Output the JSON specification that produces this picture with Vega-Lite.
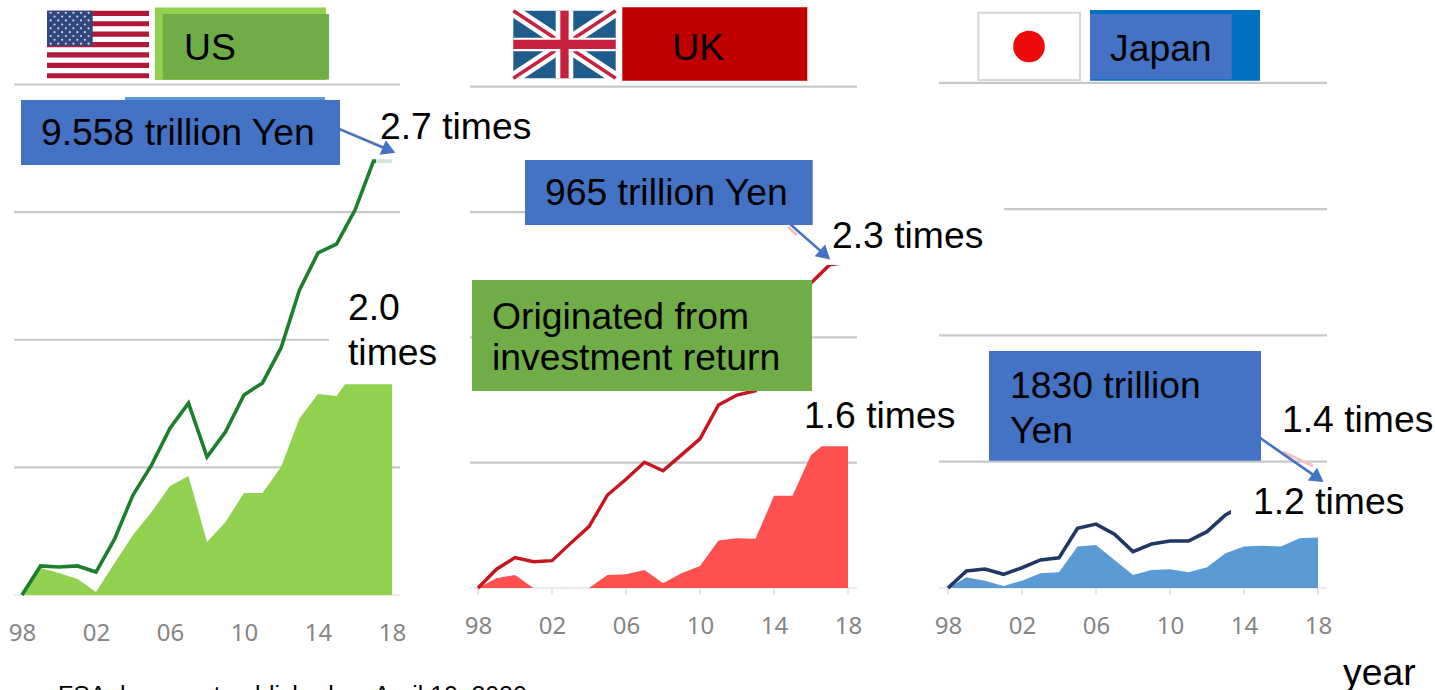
{
  "$schema": "https://vega.github.io/schema/vega-lite/v6.json",
  "padding": 0,
  "autosize": {"type": "pad"},
  "background": "white",
  "bounds": "flush",
  "spacing": 0,
  "config": {
    "view": {"stroke": null},
    "text": {"font": "Liberation Sans", "fontSize": 37.3, "align": "left", "baseline": "middle", "color": "#000000", "dy": 1.5},
    "axis": {"labelFont": "Noto Sans", "labelFontSize": 24, "labelColor": "#858585"}
  },
  "datasets": {
    "annotation": [{"kind": "annotation"}],
    "us": [
      {"year": 1998, "total": 1.0, "investment": 1.0},
      {"year": 1999, "total": 1.114, "investment": 1.106},
      {"year": 2000, "total": 1.11, "investment": 1.086},
      {"year": 2001, "total": 1.114, "investment": 1.063},
      {"year": 2002, "total": 1.09, "investment": 1.012},
      {"year": 2003, "total": 1.219, "investment": 1.125},
      {"year": 2004, "total": 1.392, "investment": 1.235},
      {"year": 2005, "total": 1.509, "investment": 1.325},
      {"year": 2006, "total": 1.654, "investment": 1.427},
      {"year": 2007, "total": 1.752, "investment": 1.466},
      {"year": 2008, "total": 1.541, "investment": 1.208},
      {"year": 2009, "total": 1.639, "investment": 1.286},
      {"year": 2010, "total": 1.784, "investment": 1.4},
      {"year": 2011, "total": 1.831, "investment": 1.4},
      {"year": 2012, "total": 1.968, "investment": 1.502},
      {"year": 2013, "total": 2.195, "investment": 1.693},
      {"year": 2014, "total": 2.34, "investment": 1.788},
      {"year": 2015, "total": 2.375, "investment": 1.78},
      {"year": 2016, "total": 2.508, "investment": 1.88},
      {"year": 2017, "total": 2.7, "investment": 1.96},
      {"year": 2018, "total": 2.7, "investment": 2.0}
    ],
    "uk": [
      {"year": 1998, "total": 1.0, "investment": 1.0},
      {"year": 1999, "total": 1.075, "investment": 1.039},
      {"year": 2000, "total": 1.121, "investment": 1.052},
      {"year": 2001, "total": 1.105, "investment": 1.0},
      {"year": 2002, "total": 1.109, "investment": 1.0},
      {"year": 2003, "total": 1.178, "investment": 1.0},
      {"year": 2004, "total": 1.245, "investment": 1.0},
      {"year": 2005, "total": 1.371, "investment": 1.052},
      {"year": 2006, "total": 1.434, "investment": 1.055},
      {"year": 2007, "total": 1.502, "investment": 1.072},
      {"year": 2008, "total": 1.468, "investment": 1.019},
      {"year": 2009, "total": 1.531, "investment": 1.059},
      {"year": 2010, "total": 1.595, "investment": 1.088},
      {"year": 2011, "total": 1.73, "investment": 1.189},
      {"year": 2012, "total": 1.77, "investment": 1.198},
      {"year": 2013, "total": 1.787, "investment": 1.196},
      {"year": 2014, "total": 1.95, "investment": 1.368},
      {"year": 2015, "total": 2.09, "investment": 1.368},
      {"year": 2016, "total": 2.217, "investment": 1.531},
      {"year": 2017, "total": 2.289, "investment": 1.59},
      {"year": 2018, "total": 2.3, "investment": 1.6}
    ],
    "japan": [
      {"year": 1998, "total": 1.0, "investment": 1.0},
      {"year": 1999, "total": 1.067, "investment": 1.042},
      {"year": 2000, "total": 1.075, "investment": 1.029},
      {"year": 2001, "total": 1.054, "investment": 1.008},
      {"year": 2002, "total": 1.08, "investment": 1.029},
      {"year": 2003, "total": 1.111, "investment": 1.058},
      {"year": 2004, "total": 1.119, "investment": 1.062},
      {"year": 2005, "total": 1.236, "investment": 1.164},
      {"year": 2006, "total": 1.253, "investment": 1.17},
      {"year": 2007, "total": 1.213, "investment": 1.111},
      {"year": 2008, "total": 1.144, "investment": 1.051},
      {"year": 2009, "total": 1.174, "investment": 1.071},
      {"year": 2010, "total": 1.186, "investment": 1.074},
      {"year": 2011, "total": 1.186, "investment": 1.062},
      {"year": 2012, "total": 1.223, "investment": 1.082},
      {"year": 2013, "total": 1.289, "investment": 1.137},
      {"year": 2014, "total": 1.33, "investment": 1.164},
      {"year": 2015, "total": 1.34, "investment": 1.167},
      {"year": 2016, "total": 1.36, "investment": 1.164},
      {"year": 2017, "total": 1.39, "investment": 1.197},
      {"year": 2018, "total": 1.4, "investment": 1.2}
    ],
    "grid_us": [
      {"level": 3.0, "from": 1997.568, "to": 2018.433},
      {"level": 2.5, "from": 1997.568, "to": 2018.433},
      {"level": 2.0, "from": 1997.568, "to": 2018.433},
      {"level": 1.5, "from": 1997.568, "to": 2018.433}
    ],
    "grid_uk": [
      {"level": 3.0, "from": 1997.568, "to": 2018.487},
      {"level": 2.5, "from": 1997.568, "to": 2016.054},
      {"level": 2.0, "from": 1997.568, "to": 2018.487},
      {"level": 1.5, "from": 1997.568, "to": 2018.487}
    ],
    "grid_japan": [
      {"level": 3.0, "from": 1997.514, "to": 2018.487},
      {"level": 2.5, "from": 2001.027, "to": 2018.487},
      {"level": 2.0, "from": 1997.514, "to": 2018.487},
      {"level": 1.5, "from": 1997.514, "to": 2018.487}
    ],
    "stripes": [
      {"top": 3.289, "bottom": 3.2686},
      {"top": 3.2482, "bottom": 3.2279},
      {"top": 3.2075, "bottom": 3.1871},
      {"top": 3.1667, "bottom": 3.1463},
      {"top": 3.126, "bottom": 3.1056},
      {"top": 3.0852, "bottom": 3.0648},
      {"top": 3.0444, "bottom": 3.024}
    ],
    "stars": [
      {"a": 1999.55, "b": 3.281}, {"a": 1999.96, "b": 3.281}, {"a": 2000.37, "b": 3.281}, {"a": 2000.78, "b": 3.281}, {"a": 2001.19, "b": 3.281}, {"a": 2001.6, "b": 3.281},
      {"a": 1999.76, "b": 3.266}, {"a": 2000.17, "b": 3.266}, {"a": 2000.58, "b": 3.266}, {"a": 2000.99, "b": 3.266}, {"a": 2001.4, "b": 3.266},
      {"a": 1999.55, "b": 3.251}, {"a": 1999.96, "b": 3.251}, {"a": 2000.37, "b": 3.251}, {"a": 2000.78, "b": 3.251}, {"a": 2001.19, "b": 3.251}, {"a": 2001.6, "b": 3.251},
      {"a": 1999.76, "b": 3.235}, {"a": 2000.17, "b": 3.235}, {"a": 2000.58, "b": 3.235}, {"a": 2000.99, "b": 3.235}, {"a": 2001.4, "b": 3.235},
      {"a": 1999.55, "b": 3.22}, {"a": 1999.96, "b": 3.22}, {"a": 2000.37, "b": 3.22}, {"a": 2000.78, "b": 3.22}, {"a": 2001.19, "b": 3.22}, {"a": 2001.6, "b": 3.22},
      {"a": 1999.76, "b": 3.205}, {"a": 2000.17, "b": 3.205}, {"a": 2000.58, "b": 3.205}, {"a": 2000.99, "b": 3.205}, {"a": 2001.4, "b": 3.205},
      {"a": 1999.55, "b": 3.19}, {"a": 1999.96, "b": 3.19}, {"a": 2000.37, "b": 3.19}, {"a": 2000.78, "b": 3.19}, {"a": 2001.19, "b": 3.19}, {"a": 2001.6, "b": 3.19},
      {"a": 1999.76, "b": 3.175}, {"a": 2000.17, "b": 3.175}, {"a": 2000.58, "b": 3.175}, {"a": 2000.99, "b": 3.175}, {"a": 2001.4, "b": 3.175},
      {"a": 1999.55, "b": 3.16}, {"a": 1999.96, "b": 3.16}, {"a": 2000.37, "b": 3.16}, {"a": 2000.78, "b": 3.16}, {"a": 2001.19, "b": 3.16}, {"a": 2001.6, "b": 3.16}
    ],
    "ticks": [{"year": 1998}, {"year": 2002}, {"year": 2006}, {"year": 2010}, {"year": 2014}, {"year": 2018}]
  },
  "hconcat": [
    {
      "width": 470,
      "height": 690,
      "data": {"name": "annotation"},
      "layer": [
        {"data": {"name": "grid_us"}, "mark": {"type": "rule", "stroke": "#c8c8c8", "strokeWidth": 2.2}, "encoding": {
          "x": {"field": "from", "type": "quantitative", "scale": {"domain": [1996.811, 2022.216], "nice": false, "zero": false}, "axis": {"values": [1998, 2002, 2006, 2010, 2014, 2018], "labelExpr": "format(datum.value % 100, '02d')", "title": null, "domain": false, "ticks": false, "grid": false, "labelPadding": 0, "labelBaseline": "middle", "offset": -57}},
          "x2": {"field": "to"},
          "y": {"field": "level", "type": "quantitative", "scale": {"domain": [0.628, 3.331], "nice": false, "zero": false}, "axis": null}}},
        {"mark": {"type": "rule", "stroke": "#ececec", "strokeWidth": 2}, "encoding": {"x": {"datum": 1997.568, "type": "quantitative"}, "x2": {"datum": 2018.433}, "y": {"datum": 1, "type": "quantitative"}}},
        {"data": {"name": "us"}, "mark": {"type": "area", "fill": "#92d050"}, "encoding": {"x": {"field": "year", "type": "quantitative"}, "y": {"field": "investment", "type": "quantitative"}, "y2": {"datum": 1}}},
        {"data": {"name": "us"}, "mark": {"type": "line", "stroke": "#1b7f2c", "strokeWidth": 3.6}, "encoding": {"x": {"field": "year", "type": "quantitative"}, "y": {"field": "total", "type": "quantitative"}}},

        {"mark": {"type": "rect", "fill": "white"}, "encoding": {"x": {"datum": 2014.595, "type": "quantitative"}, "x2": {"datum": 2021.946}, "y": {"datum": 2.234, "type": "quantitative"}, "y2": {"datum": 1.826}}},
        {"mark": {"type": "rect", "fill": "white", "opacity": 0.8}, "encoding": {"x": {"datum": 2017.135, "type": "quantitative"}, "x2": {"datum": 2018.433}, "y": {"datum": 2.724, "type": "quantitative"}, "y2": {"datum": 2.673}}},

        {"mark": {"type": "rect", "fill": "#ffffff"}, "encoding": {"x": {"datum": 1999.352, "type": "quantitative"}, "x2": {"datum": 2004.865}, "y": {"datum": 3.289, "type": "quantitative"}, "y2": {"datum": 3.024}}},
        {"data": {"name": "stripes"}, "mark": {"type": "rect", "fill": "#b2183a"}, "encoding": {"x": {"datum": 1999.352, "type": "quantitative"}, "x2": {"datum": 2004.865}, "y": {"field": "top", "type": "quantitative"}, "y2": {"field": "bottom"}}},
        {"mark": {"type": "rect", "fill": "#33477f"}, "encoding": {"x": {"datum": 1999.352, "type": "quantitative"}, "x2": {"datum": 2001.822}, "y": {"datum": 3.289, "type": "quantitative"}, "y2": {"datum": 3.152}}},
        {"data": {"name": "stars"}, "mark": {"type": "circle", "fill": "#c8d0e4", "size": 5, "opacity": 1}, "encoding": {"x": {"field": "a", "type": "quantitative"}, "y": {"field": "b", "type": "quantitative"}}},

        {"mark": {"type": "rect", "fill": "#92d050"}, "encoding": {"x": {"datum": 2005.189, "type": "quantitative"}, "x2": {"datum": 2014.433}, "y": {"datum": 3.302, "type": "quantitative"}, "y2": {"datum": 3.018}}},
        {"mark": {"type": "rect", "fill": "#70ad47"}, "encoding": {"x": {"datum": 2005.606, "type": "quantitative"}, "x2": {"datum": 2014.595}, "y": {"datum": 3.276, "type": "quantitative"}, "y2": {"datum": 3.02}}},
        {"mark": {"type": "text", "text": "US"}, "encoding": {"x": {"datum": 2006.757, "type": "quantitative"}, "y": {"datum": 3.1457, "type": "quantitative"}}},

        {"mark": {"type": "rect", "fill": "#5b9bd5"}, "encoding": {"x": {"datum": 2003.568, "type": "quantitative"}, "x2": {"datum": 2014.378}, "y": {"datum": 2.951, "type": "quantitative"}, "y2": {"datum": 2.939}}},
        {"mark": {"type": "rect", "fill": "#4472c4"}, "encoding": {"x": {"datum": 1997.946, "type": "quantitative"}, "x2": {"datum": 2015.189}, "y": {"datum": 2.939, "type": "quantitative"}, "y2": {"datum": 2.6845}}},
        {"mark": {"type": "text", "text": "9.558 trillion Yen"}, "encoding": {"x": {"datum": 1999.027, "type": "quantitative"}, "y": {"datum": 2.81, "type": "quantitative"}}},

        {"mark": {"type": "rule", "stroke": "#f5c9c2", "strokeWidth": 2}, "encoding": {"x": {"datum": 2015.189, "type": "quantitative"}, "x2": {"datum": 2017.6}, "y": {"datum": 2.826, "type": "quantitative"}, "y2": {"datum": 2.755}}},
        {"mark": {"type": "rule", "stroke": "#4472c4", "strokeWidth": 2.6}, "encoding": {"x": {"datum": 2014.649, "type": "quantitative"}, "x2": {"datum": 2017.838}, "y": {"datum": 2.841, "type": "quantitative"}, "y2": {"datum": 2.743}}},
        {"mark": {"type": "point", "shape": "triangle-up", "fill": "#4472c4", "stroke": null, "filled": true, "opacity": 1, "size": 250, "angle": 113}, "encoding": {"x": {"datum": 2017.838, "type": "quantitative"}, "y": {"datum": 2.743, "type": "quantitative"}}},

        {"mark": {"type": "text", "text": "2.7 times"}, "encoding": {"x": {"datum": 2017.352, "type": "quantitative"}, "y": {"datum": 2.837, "type": "quantitative"}}},
        {"mark": {"type": "text", "text": "2.0"}, "encoding": {"x": {"datum": 2015.622, "type": "quantitative"}, "y": {"datum": 2.128, "type": "quantitative"}}},
        {"mark": {"type": "text", "text": "times"}, "encoding": {"x": {"datum": 2015.622, "type": "quantitative"}, "y": {"datum": 1.952, "type": "quantitative"}}},
        {"mark": {"type": "text", "text": "FSA document published on April 10, 2020", "fontSize": 24.8, "baseline": "alphabetic", "dy": 0}, "encoding": {"x": {"datum": 1999.946, "type": "quantitative"}, "y": {"datum": 0.5786, "type": "quantitative"}}}
      ]
    },
    {
      "width": 470,
      "height": 690,
      "data": {"name": "annotation"},
      "layer": [
        {"data": {"name": "grid_uk"}, "mark": {"type": "rule", "stroke": "#c8c8c8", "strokeWidth": 2.2}, "encoding": {
          "x": {"field": "from", "type": "quantitative", "scale": {"domain": [1997.568, 2022.973], "nice": false, "zero": false}, "axis": {"values": [1998, 2002, 2006, 2010, 2014, 2018], "labelExpr": "format(datum.value % 100, '02d')", "title": null, "domain": false, "ticks": false, "grid": false, "labelPadding": 0, "labelBaseline": "middle", "offset": -64}},
          "x2": {"field": "to"},
          "y": {"field": "level", "type": "quantitative", "scale": {"domain": [0.593, 3.346], "nice": false, "zero": false}, "axis": null}}},
        {"mark": {"type": "rule", "stroke": "#ececec", "strokeWidth": 2}, "encoding": {"x": {"datum": 1997.568, "type": "quantitative"}, "x2": {"datum": 2018.487}, "y": {"datum": 1, "type": "quantitative"}}},
        {"data": {"name": "ticks"}, "mark": {"type": "rule", "stroke": "#e4e4e4", "strokeWidth": 2}, "encoding": {"x": {"field": "year", "type": "quantitative"}, "y": {"datum": 1, "type": "quantitative"}, "y2": {"datum": 0.975}}},
        {"data": {"name": "uk"}, "mark": {"type": "area", "fill": "#ff5050"}, "encoding": {"x": {"field": "year", "type": "quantitative"}, "y": {"field": "investment", "type": "quantitative"}, "y2": {"datum": 1}}},
        {"data": {"name": "uk"}, "mark": {"type": "line", "stroke": "#c8141e", "strokeWidth": 3.4}, "encoding": {"x": {"field": "year", "type": "quantitative"}, "y": {"field": "total", "type": "quantitative"}}},

        {"mark": {"type": "rect", "fill": "white"}, "encoding": {"x": {"datum": 2015.406, "type": "quantitative"}, "x2": {"datum": 2025.4}, "y": {"datum": 1.762, "type": "quantitative"}, "y2": {"datum": 1.566}}},
        {"mark": {"type": "rect", "fill": "white"}, "encoding": {"x": {"datum": 2016.217, "type": "quantitative"}, "x2": {"datum": 2025.4}, "y": {"datum": 2.5, "type": "quantitative"}, "y2": {"datum": 2.289}}},

        {"mark": {"type": "rect", "fill": "#1f5c8c"}, "encoding": {"x": {"datum": 1999.909, "type": "quantitative"}, "x2": {"datum": 2005.444}, "y": {"datum": 3.303, "type": "quantitative"}, "y2": {"datum": 3.034}}},
        {"mark": {"type": "rule", "stroke": "#ffffff", "strokeWidth": 12}, "encoding": {"x": {"datum": 1999.909, "type": "quantitative"}, "x2": {"datum": 2005.444}, "y": {"datum": 3.303, "type": "quantitative"}, "y2": {"datum": 3.034}}},
        {"mark": {"type": "rule", "stroke": "#ffffff", "strokeWidth": 12}, "encoding": {"x": {"datum": 1999.909, "type": "quantitative"}, "x2": {"datum": 2005.444}, "y": {"datum": 3.034, "type": "quantitative"}, "y2": {"datum": 3.303}}},
        {"mark": {"type": "rule", "stroke": "#c8213f", "strokeWidth": 3.5}, "encoding": {"x": {"datum": 1999.909, "type": "quantitative"}, "x2": {"datum": 2005.444}, "y": {"datum": 3.303, "type": "quantitative"}, "y2": {"datum": 3.034}}},
        {"mark": {"type": "rule", "stroke": "#c8213f", "strokeWidth": 3.5}, "encoding": {"x": {"datum": 1999.909, "type": "quantitative"}, "x2": {"datum": 2005.444}, "y": {"datum": 3.034, "type": "quantitative"}, "y2": {"datum": 3.303}}},
        {"mark": {"type": "rect", "fill": "#ffffff"}, "encoding": {"x": {"datum": 1999.909, "type": "quantitative"}, "x2": {"datum": 2005.444}, "y": {"datum": 3.195, "type": "quantitative"}, "y2": {"datum": 3.142}}},
        {"mark": {"type": "rect", "fill": "#ffffff"}, "encoding": {"x": {"datum": 2002.2, "type": "quantitative"}, "x2": {"datum": 2003.15}, "y": {"datum": 3.303, "type": "quantitative"}, "y2": {"datum": 3.034}}},
        {"mark": {"type": "rect", "fill": "#c8213f"}, "encoding": {"x": {"datum": 1999.909, "type": "quantitative"}, "x2": {"datum": 2005.444}, "y": {"datum": 3.187, "type": "quantitative"}, "y2": {"datum": 3.15}}},
        {"mark": {"type": "rect", "fill": "#c8213f"}, "encoding": {"x": {"datum": 2002.45, "type": "quantitative"}, "x2": {"datum": 2002.9}, "y": {"datum": 3.303, "type": "quantitative"}, "y2": {"datum": 3.034}}},

        {"mark": {"type": "rect", "fill": "#c00000"}, "encoding": {"x": {"datum": 2005.8, "type": "quantitative"}, "x2": {"datum": 2015.801}, "y": {"datum": 3.317, "type": "quantitative"}, "y2": {"datum": 3.024}}},
        {"mark": {"type": "text", "text": "UK"}, "encoding": {"x": {"datum": 2008.503, "type": "quantitative"}, "y": {"datum": 3.158, "type": "quantitative"}}},

        {"mark": {"type": "rule", "stroke": "#f4b6b0", "strokeWidth": 2.5}, "encoding": {"x": {"datum": 2014.757, "type": "quantitative"}, "x2": {"datum": 2015.244}, "y": {"datum": 2.44, "type": "quantitative"}, "y2": {"datum": 2.408}}},
        {"mark": {"type": "rect", "fill": "#4472c4"}, "encoding": {"x": {"datum": 2000.541, "type": "quantitative"}, "x2": {"datum": 2016.092}, "y": {"datum": 2.708, "type": "quantitative"}, "y2": {"datum": 2.448}}},
        {"mark": {"type": "text", "text": "965 trillion Yen"}, "encoding": {"x": {"datum": 2001.622, "type": "quantitative"}, "y": {"datum": 2.576, "type": "quantitative"}}},
        {"mark": {"type": "rule", "stroke": "#4472c4", "strokeWidth": 2.6}, "encoding": {"x": {"datum": 2014.417, "type": "quantitative"}, "x2": {"datum": 2016.757}, "y": {"datum": 2.481, "type": "quantitative"}, "y2": {"datum": 2.329}}},
        {"mark": {"type": "point", "shape": "triangle-up", "fill": "#4472c4", "stroke": null, "filled": true, "opacity": 1, "size": 250, "angle": 132}, "encoding": {"x": {"datum": 2016.757, "type": "quantitative"}, "y": {"datum": 2.329, "type": "quantitative"}}},
        {"mark": {"type": "text", "text": "2.3 times"}, "encoding": {"x": {"datum": 2017.136, "type": "quantitative"}, "y": {"datum": 2.408, "type": "quantitative"}}},

        {"mark": {"type": "rect", "fill": "#70ad47"}, "encoding": {"x": {"datum": 1997.676, "type": "quantitative"}, "x2": {"datum": 2016.054}, "y": {"datum": 2.229, "type": "quantitative"}, "y2": {"datum": 1.786}}},
        {"mark": {"type": "text", "text": "Originated from"}, "encoding": {"x": {"datum": 1998.757, "type": "quantitative"}, "y": {"datum": 2.085, "type": "quantitative"}}},
        {"mark": {"type": "text", "text": "investment return"}, "encoding": {"x": {"datum": 1998.757, "type": "quantitative"}, "y": {"datum": 1.918, "type": "quantitative"}}},
        {"mark": {"type": "text", "text": "1.6 times"}, "encoding": {"x": {"datum": 2015.622, "type": "quantitative"}, "y": {"datum": 1.69, "type": "quantitative"}}}
      ]
    },
    {
      "width": 495,
      "height": 690,
      "data": {"name": "annotation"},
      "layer": [
        {"data": {"name": "grid_japan"}, "mark": {"type": "rule", "stroke": "#c8c8c8", "strokeWidth": 2.2}, "encoding": {
          "x": {"field": "from", "type": "quantitative", "scale": {"domain": [1997.568, 2024.325], "nice": false, "zero": false}, "axis": {"values": [1998, 2002, 2006, 2010, 2014, 2018], "labelExpr": "format(datum.value % 100, '02d')", "title": null, "domain": false, "ticks": false, "grid": false, "labelPadding": 0, "labelBaseline": "middle", "offset": -64}},
          "x2": {"field": "to"},
          "y": {"field": "level", "type": "quantitative", "scale": {"domain": [0.596, 3.328], "nice": false, "zero": false}, "axis": null}}},
        {"mark": {"type": "rule", "stroke": "#ececec", "strokeWidth": 2}, "encoding": {"x": {"datum": 1997.514, "type": "quantitative"}, "x2": {"datum": 2018.487}, "y": {"datum": 1, "type": "quantitative"}}},
        {"data": {"name": "ticks"}, "mark": {"type": "rule", "stroke": "#e4e4e4", "strokeWidth": 2}, "encoding": {"x": {"field": "year", "type": "quantitative"}, "y": {"datum": 1, "type": "quantitative"}, "y2": {"datum": 0.975}}},
        {"data": {"name": "japan"}, "mark": {"type": "area", "fill": "#5b9bd5"}, "encoding": {"x": {"field": "year", "type": "quantitative"}, "y": {"field": "investment", "type": "quantitative"}, "y2": {"datum": 1}}},
        {"data": {"name": "japan"}, "mark": {"type": "line", "stroke": "#1f3864", "strokeWidth": 3.6}, "encoding": {"x": {"field": "year", "type": "quantitative"}, "y": {"field": "total", "type": "quantitative"}}},

        {"mark": {"type": "rect", "fill": "white"}, "encoding": {"x": {"datum": 2013.298, "type": "quantitative"}, "x2": {"datum": 2022.163}, "y": {"datum": 1.467, "type": "quantitative"}, "y2": {"datum": 1.217}}},
        {"mark": {"type": "rule", "stroke": "#f5c2c8", "strokeWidth": 3}, "encoding": {"x": {"datum": 2016.109, "type": "quantitative"}, "x2": {"datum": 2017.73}, "y": {"datum": 1.538, "type": "quantitative"}, "y2": {"datum": 1.483}}},

        {"mark": {"type": "rect", "fill": "#ffffff", "stroke": "#d6d6d6", "strokeWidth": 2}, "encoding": {"x": {"datum": 1999.638, "type": "quantitative"}, "x2": {"datum": 2005.136}, "y": {"datum": 3.278, "type": "quantitative"}, "y2": {"datum": 3.011}}},
        {"mark": {"type": "circle", "fill": "#ee0a0a", "size": 1000, "opacity": 1}, "encoding": {"x": {"datum": 2002.379, "type": "quantitative"}, "y": {"datum": 3.144, "type": "quantitative"}}},

        {"mark": {"type": "rect", "fill": "#0070c0"}, "encoding": {"x": {"datum": 2005.676, "type": "quantitative"}, "x2": {"datum": 2014.865}, "y": {"datum": 3.288, "type": "quantitative"}, "y2": {"datum": 3.008}}},
        {"mark": {"type": "rect", "fill": "#4472c4"}, "encoding": {"x": {"datum": 2005.676, "type": "quantitative"}, "x2": {"datum": 2013.336}, "y": {"datum": 3.273, "type": "quantitative"}, "y2": {"datum": 3.014}}},
        {"mark": {"type": "text", "text": "Japan"}, "encoding": {"x": {"datum": 2006.757, "type": "quantitative"}, "y": {"datum": 3.134, "type": "quantitative"}}},

        {"mark": {"type": "rect", "fill": "#4472c4"}, "encoding": {"x": {"datum": 2000.217, "type": "quantitative"}, "x2": {"datum": 2014.919}, "y": {"datum": 1.938, "type": "quantitative"}, "y2": {"datum": 1.504}}},
        {"mark": {"type": "text", "text": "1830 trillion"}, "encoding": {"x": {"datum": 2001.352, "type": "quantitative"}, "y": {"datum": 1.803, "type": "quantitative"}}},
        {"mark": {"type": "text", "text": "Yen"}, "encoding": {"x": {"datum": 2001.352, "type": "quantitative"}, "y": {"datum": 1.625, "type": "quantitative"}}},

        {"mark": {"type": "rule", "stroke": "#4472c4", "strokeWidth": 2.6}, "encoding": {"x": {"datum": 2014.865, "type": "quantitative"}, "x2": {"datum": 2018.0}, "y": {"datum": 1.594, "type": "quantitative"}, "y2": {"datum": 1.435}}},
        {"mark": {"type": "point", "shape": "triangle-up", "fill": "#4472c4", "stroke": null, "filled": true, "opacity": 1, "size": 250, "angle": 126}, "encoding": {"x": {"datum": 2018.0, "type": "quantitative"}, "y": {"datum": 1.435, "type": "quantitative"}}},

        {"mark": {"type": "text", "text": "1.4 times"}, "encoding": {"x": {"datum": 2016.054, "type": "quantitative"}, "y": {"datum": 1.669, "type": "quantitative"}}},
        {"mark": {"type": "text", "text": "1.2 times"}, "encoding": {"x": {"datum": 2014.487, "type": "quantitative"}, "y": {"datum": 1.344, "type": "quantitative"}}},
        {"mark": {"type": "text", "text": "year", "dy": 0}, "encoding": {"x": {"datum": 2019.352, "type": "quantitative"}, "y": {"datum": 0.659, "type": "quantitative"}}}
      ]
    }
  ]
}
